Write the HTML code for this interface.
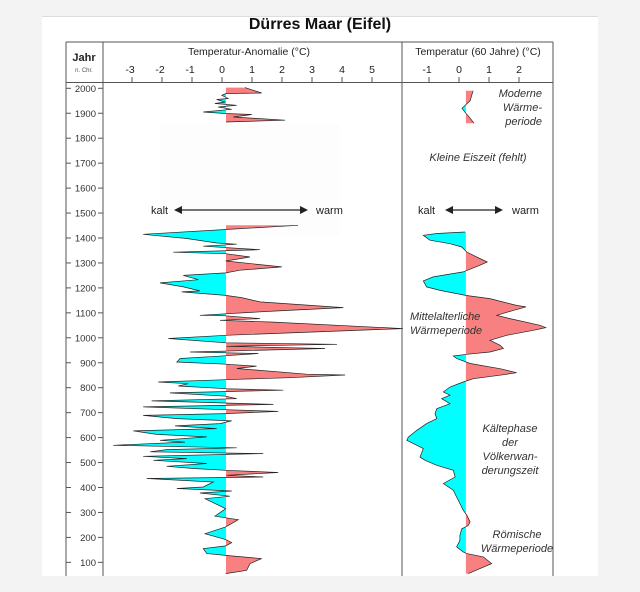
<!DOCTYPE html>
<html><head><meta charset="utf-8"><style>
body{margin:0;background:#f3f3f3;width:640px;height:592px;overflow:hidden;font-family:"Liberation Sans",sans-serif}
svg{position:absolute;left:0;top:0}
</style></head><body>
<svg id="c" width="640" height="592" viewBox="0 0 640 592">
<rect x="42" y="16" width="556" height="560" fill="#fff"/>
<line x1="42" y1="16.5" x2="598" y2="16.5" stroke="#ddd"/>
<text x="320" y="29" font-size="16" font-weight="bold" text-anchor="middle" fill="#111">Dürres Maar (Eifel)</text>
<g id="frame" stroke="#555" fill="none">
<line x1="66" y1="42" x2="553" y2="42"/>
<line x1="66" y1="42" x2="66" y2="576"/>
<line x1="553" y1="42" x2="553" y2="576"/>
<line x1="103" y1="42" x2="103" y2="576"/>
<line x1="402" y1="42" x2="402" y2="576"/>
<line x1="66" y1="82.5" x2="553" y2="82.5"/>
</g>
<text x="84" y="61" font-size="11" font-weight="bold" text-anchor="middle" fill="#222">Jahr</text>
<text x="84" y="72" font-size="6" text-anchor="middle" fill="#555">n. Chr.</text>
<text x="249" y="55" font-size="10.5" text-anchor="middle" fill="#222">Temperatur-Anomalie (°C)</text>
<text x="478" y="55" font-size="10.5" text-anchor="middle" fill="#222">Temperatur (60 Jahre) (°C)</text>
<rect x="160" y="125" width="180" height="110" fill="#fdfdfd"/>
<g id="ann" fill="#333" font-size="11" font-style="italic">
<text x="542" y="97" text-anchor="end">Moderne</text>
<text x="542" y="111" text-anchor="end">Wärme-</text>
<text x="542" y="125" text-anchor="end">periode</text>
<text x="478" y="161" text-anchor="middle">Kleine Eiszeit (fehlt)</text>
<text x="410" y="320">Mittelalterliche</text>
<text x="410" y="334">Wärmeperiode</text>
<text x="510" y="432" text-anchor="middle">Kältephase</text>
<text x="510" y="446" text-anchor="middle">der</text>
<text x="510" y="460" text-anchor="middle">Völkerwan-</text>
<text x="510" y="474" text-anchor="middle">derungszeit</text>
<text x="517" y="538" text-anchor="middle">Römische</text>
<text x="517" y="552" text-anchor="middle">Wärmeperiode</text>
</g>
<g fill="#222" font-size="11">
<text x="151" y="214">kalt</text><text x="316" y="214">warm</text>
<text x="418" y="214">kalt</text><text x="512" y="214">warm</text>
<g stroke="#222" stroke-width="1.2"><line x1="178" y1="210" x2="304" y2="210"/><line x1="449" y1="210" x2="499" y2="210"/></g>
<path d="M174 210l8-4v8zM308 210l-8-4v8zM445 210l8-4v8zM503 210l-8-4v8z"/>
</g>
<g id="plots"></g>
</svg>
<script>
// Left panel: annual temperature anomaly (°C)
const leftYearsA=[2003,1981,1979,1972,1959,1955,1945,1939,1932,1925,1916,1905,1899,1895,1885,1872,1865];
const leftValsA=[0.83,1.39,0.2,0.06,0.27,-0.11,0.17,-0.17,0.56,-0.06,0.39,-0.56,0.17,1.06,0.44,2.17,0.2];
const leftYearsB=[1451,1434,1415,1398,1380,1375,1367,1353,1343,1337,1324,1308,1284,1271,1260,1250,1233,1220,1204,1188,1184,1170,1161,1144,1121,1107,1090,1088,1077,1070,1063,1037,1010,997,980,974,966,957,943,937,926,917,903,894,886,877,854,851,840,832,823,816,807,796,790,779,766,756,747,733,723,712,705,696,689,676,667,656,647,636,627,613,603,589,582,569,559,552,543,536,525,516,509,496,485,476,469,460,449,442,436,422,402,396,386,378,365,355,315,285,271,242,215,191,179,166,155,135,128,115,95,68,55];
const leftValsB=[2.6,0.19,-2.56,-1.11,-0.11,0.56,-0.56,1.33,-1.56,0.19,1.0,0.19,2.06,0.67,0.19,-1.22,-0.72,-2.0,-1.22,-0.67,-1.28,0.19,0.72,1.33,4.11,1.78,-0.67,0.19,1.33,0,1.78,6.1,0.19,-1.72,0.19,3.9,0.22,3.5,-1.0,1.28,-0.11,-1.33,-1.44,0.19,1.22,0.56,2.89,4.17,2.33,0.19,-2.06,-1.06,-1.39,0.19,2.11,-1.67,0.19,0.56,-2.28,1.78,-2.56,0.19,1.94,0.19,-2.56,-1.44,0.39,0,-1.5,-0.11,-2.89,-2.11,-0.44,-2.0,-1.17,-3.56,0.56,-1.78,-2.33,1.44,-2.56,-1.11,-2.22,-0.44,-1.78,-0.89,0.19,1.94,0.22,1.44,-2.44,-0.22,-0.56,-1.44,0.39,-0.67,0.33,-0.5,0.19,-0.17,0.61,0.19,-0.5,0.19,0.39,0.19,-0.56,-0.44,0.19,1.39,1.0,0.89,0.19];
const leftBase=0.2;
// Right panel: 60-year smoothed temperature (°C)
const rightYearsA=[1990,1950,1920,1900,1880,1860];
const rightValsA=[0.47,0.37,0.1,0.23,0.37,0.5];
const rightYearsB=[1424,1418,1411,1391,1377,1364,1344,1324,1304,1291,1264,1244,1228,1204,1190,1170,1157,1130,1124,1110,1090,1077,1050,1041,1030,1010,990,970,957,943,934,927,917,897,876,860,850,836,823,803,783,770,756,736,716,696,676,656,629,602,589,576,556,522,509,489,469,442,416,389,362,336,309,289,262,248,234,208,188,162,142,135,122,95,75,55];
const rightValsB=[0.2,-0.74,-1.19,-0.97,-0.3,0.09,0.26,0.59,0.94,0.7,0.14,-0.86,-1.19,-1.08,-0.63,0.22,1.03,1.92,2.23,1.81,1.26,1.7,2.7,2.89,2.48,1.59,1.03,1.37,1.48,1.03,0.26,-0.19,-0.08,0.37,1.37,1.92,1.37,0.48,0.14,-0.3,-0.52,-0.3,-0.58,-0.3,-0.74,-0.8,-0.74,-1.08,-1.41,-1.69,-1.74,-1.52,-1.19,-1.3,-1.13,-0.74,-0.19,-0.13,-0.52,-0.19,-0.08,0.03,0.14,0.26,0.37,0.31,0.09,0.03,0.03,-0.08,0.14,0.26,0.81,1.09,0.7,0.31];
const rightBase=0.23;
const yearTicks=[2000,1900,1800,1700,1600,1500,1400,1300,1200,1100,1000,900,800,700,600,500,400,300,200,100];
const leftTicks=[-3,-2,-1,0,1,2,3,4,5];
const rightTicks=[-1,0,1,2];

const NS='http://www.w3.org/2000/svg';
const yS=yr=>88.3+(2000-yr)*0.2495;
const xL=v=>220+30*v;
const xR=v=>459+30*v;
const svg=document.getElementById('c');
const plots=document.getElementById('plots');
function mk(tag,attrs,parent){const e=document.createElementNS(NS,tag);for(const k in attrs)e.setAttribute(k,attrs[k]);(parent||svg).appendChild(e);return e;}
let cid=0;
function series(years,vals,base,xs,left,right,name){
  const bx=xs(base);
  const pts=years.map((y,i)=>xs(vals[i]).toFixed(1)+','+yS(y).toFixed(1));
  const poly=bx+','+yS(years[0]).toFixed(1)+' '+pts.join(' ')+' '+bx+','+yS(years[years.length-1]).toFixed(1);
  const g=mk('g',{},plots);
  
  
  const id1='cw'+(cid++),id2='cc'+(cid++);
  const d=mk('clipPath',{id:id1},g);mk('rect',{x:bx,y:0,width:right-bx,height:576},d);
  const d2=mk('clipPath',{id:id2},g);mk('rect',{x:left,y:0,width:bx-left,height:576},d2);
  const w=mk('polygon',{points:poly,fill:'#f88080','clip-path':'url(#'+id1+')'},g);
  
  
  const c=mk('polygon',{points:poly,fill:'#00ffff','clip-path':'url(#'+id2+')'},g);
  
  
  const l=mk('polyline',{points:pts.join(' '),fill:'none',stroke:'#222','stroke-width':0.7},g);
  
  
}
series(leftYearsA,leftValsA,leftBase,xL,103,402,'left-modern-series');
series(leftYearsB,leftValsB,leftBase,xL,103,402,'left-main-series');
series(rightYearsA,rightValsA,rightBase,xR,402,553,'right-modern-series');
series(rightYearsB,rightValsB,rightBase,xR,402,553,'right-main-series');
yearTicks.forEach(t=>{
  const y=yS(t);
  const g=mk('g',{});
  
  
  mk('line',{x1:66,x2:71,y1:y,y2:y,stroke:'#555'},g);
  mk('line',{x1:98,x2:103,y1:y,y2:y,stroke:'#555'},g);
  const tx=mk('text',{x:96,y:y+3.5,'font-size':9.5,'text-anchor':'end',fill:'#333'},g);tx.textContent=t;
});
leftTicks.forEach(t=>{
  const x=xL(t)+2;
  const g=mk('g',{});
  
  
  mk('line',{x1:x,x2:x,y1:77,y2:82,stroke:'#555'},g);
  const tx=mk('text',{x:x-(t<0?2:0),y:73,'font-size':10.5,'text-anchor':'middle',fill:'#222'},g);tx.textContent=t;
});
rightTicks.forEach(t=>{
  const x=xR(t);
  const g=mk('g',{});
  
  
  mk('line',{x1:x,x2:x,y1:77,y2:82,stroke:'#555'},g);
  const tx=mk('text',{x:x-(t<0?2:0),y:73,'font-size':10.5,'text-anchor':'middle',fill:'#222'},g);tx.textContent=t;
});
svg.appendChild(document.getElementById('frame'));
svg.appendChild(document.getElementById('ann'));
const cov=mk('rect',{x:0,y:576,width:640,height:16,fill:'#f3f3f3'});


</script>
</body></html>
